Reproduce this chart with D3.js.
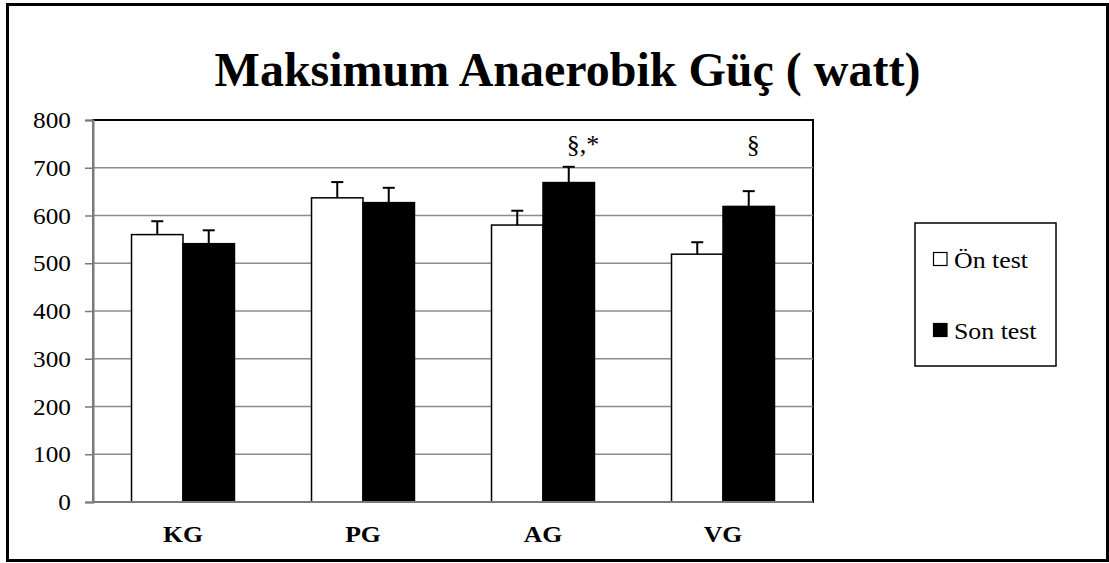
<!DOCTYPE html>
<html>
<head>
<meta charset="utf-8">
<script src="https://cdn.jsdelivr.net/npm/d3@7"></script>
<style>
  html, body { margin: 0; padding: 0; background: #fff; }
  svg { display: block; }
  text { font-family: "Liberation Serif", "Times New Roman", serif; fill: #000; }
</style>
</head>
<body>
<svg id="chart" width="1109" height="563"></svg>
<script>
// Groups and series
const categories = ["KG", "PG", "AG", "VG"];
const seriesNames = ["Ön test", "Son test"];
// Mean maximum anaerobic power (watt)
const onTest = [560, 637, 580, 519];
const sonTest = [541, 627, 669, 619];
// Standard error (upper whisker only)
const onTestErr = [28, 33, 30, 25];
const sonTestErr = [28, 31, 33, 32];
// Significance marks above the post-test bars
const sonTestMarks = ["", "", "§,*", "§"];
const yTicks = [0, 100, 200, 300, 400, 500, 600, 700, 800];
const title = "Maksimum Anaerobik Güç ( watt)";

const serif = "'Liberation Serif', 'Times New Roman', serif";
const svg = d3.select("#chart");
const plot = { left: 93, right: 813, top: 120, bottom: 502 };

// Outer frame
svg.append("rect")
  .attr("x", 7.5).attr("y", 4.5)
  .attr("width", 1100).attr("height", 556)
  .attr("fill", "#fff").attr("stroke", "#000").attr("stroke-width", 3);

// Title
svg.append("text")
  .attr("x", 567.5).attr("y", 86)
  .attr("text-anchor", "middle")
  .style("font-family", serif)
  .attr("font-size", 48).attr("font-weight", "bold")
  .text(title);

const y = d3.scaleLinear().domain([0, 800]).range([plot.bottom, plot.top]);
const x0 = d3.scaleBand().domain(categories).range([plot.left, plot.right]).padding(0);
const groupW = x0.bandwidth() * 0.572;
const x1 = d3.scaleBand().domain(seriesNames)
  .range([(x0.bandwidth() - groupW) / 2, (x0.bandwidth() + groupW) / 2]);

// Plot area frame
svg.append("rect")
  .attr("x", plot.left).attr("y", plot.top)
  .attr("width", plot.right - plot.left).attr("height", plot.bottom - plot.top)
  .attr("fill", "none").attr("stroke", "#000").attr("stroke-width", 2);

// Gridlines
svg.append("g").selectAll("line")
  .data(yTicks.filter(t => t > 0 && t < 800))
  .join("line")
  .attr("x1", plot.left).attr("x2", plot.right)
  .attr("y1", d => y(d)).attr("y2", d => y(d))
  .attr("stroke", "#8c8c8c").attr("stroke-width", 1.5);

// Y axis
const yAxis = d3.axisLeft(y).tickValues(yTicks).tickSize(8).tickPadding(14);
const gy = svg.append("g").attr("transform", `translate(${plot.left},0)`).call(yAxis);
gy.select(".domain").attr("stroke", "#7a7a7a").attr("stroke-width", 2);
gy.selectAll(".tick line").attr("stroke", "#7a7a7a").attr("stroke-width", 1.5);
gy.selectAll(".tick text")
  .style("font-family", serif)
  .attr("font-size", 23)
  .attr("dy", "0.33em")
  .each(function () {
    const t = d3.select(this);
    const xx = +t.attr("x");
    t.attr("x", null)
     .attr("transform", `translate(${xx},0) scale(1.1,1)`);
  });

// Bars
const rows = categories.map((c, i) => ({
  cat: c,
  vals: [
    { s: seriesNames[0], v: onTest[i], e: onTestErr[i], mark: "" },
    { s: seriesNames[1], v: sonTest[i], e: sonTestErr[i], mark: sonTestMarks[i] }
  ]
}));
const fills = { "Ön test": "#fff", "Son test": "#000" };

const groups = svg.append("g").selectAll("g")
  .data(rows).join("g")
  .attr("transform", d => `translate(${x0(d.cat)},0)`);

groups.selectAll("rect")
  .data(d => d.vals).join("rect")
  .attr("x", d => x1(d.s)).attr("width", x1.bandwidth())
  .attr("y", d => y(d.v)).attr("height", d => y(0) - y(d.v))
  .attr("fill", d => fills[d.s])
  .attr("stroke", "#000").attr("stroke-width", 1.5);

// Error bars
const capW = 12;
groups.selectAll("g.err")
  .data(d => d.vals).join("g").attr("class", "err")
  .each(function (d) {
    const g = d3.select(this);
    const cx = x1(d.s) + x1.bandwidth() / 2;
    g.append("line")
      .attr("x1", cx).attr("x2", cx)
      .attr("y1", y(d.v)).attr("y2", y(d.v + d.e))
      .attr("stroke", "#000").attr("stroke-width", 2);
    g.append("line")
      .attr("x1", cx - capW / 2).attr("x2", cx + capW / 2)
      .attr("y1", y(d.v + d.e)).attr("y2", y(d.v + d.e))
      .attr("stroke", "#000").attr("stroke-width", 2);
    if (d.mark) {
      g.append("text")
        .attr("x", cx - 2).attr("y", 153)
        .style("font-family", serif)
        .attr("font-size", 26)
        .text(d.mark);
    }
  });

// Axis lines drawn over the plot frame
svg.append("line")
  .attr("x1", plot.left).attr("x2", plot.right)
  .attr("y1", y(0)).attr("y2", y(0))
  .attr("stroke", "#7a7a7a").attr("stroke-width", 2);
svg.append("line")
  .attr("x1", plot.left).attr("x2", plot.left)
  .attr("y1", plot.top).attr("y2", plot.bottom)
  .attr("stroke", "#7a7a7a").attr("stroke-width", 2);

// Category labels
svg.append("g").selectAll("text")
  .data(categories).join("text")
  .attr("text-anchor", "middle")
  .style("font-family", serif)
  .attr("font-size", 24).attr("font-weight", "bold")
  .attr("transform", d => `translate(${x0(d) + x0.bandwidth() / 2},541.5) scale(1.07,1)`)
  .text(d => d);

// Legend
const lg = svg.append("g");
lg.append("rect")
  .attr("x", 915).attr("y", 223).attr("width", 141).attr("height", 143)
  .attr("fill", "#fff").attr("stroke", "#000").attr("stroke-width", 1.5);
const legendY = [259, 330];
seriesNames.forEach((s, i) => {
  lg.append("rect")
    .attr("x", 933.5).attr("y", legendY[i] - 6.5)
    .attr("width", 13.5).attr("height", 13)
    .attr("fill", fills[s]).attr("stroke", "#000").attr("stroke-width", 1.2);
  lg.append("text")
    .attr("transform", `translate(954,${legendY[i] + 8.5}) scale(1.1,1)`)
    .style("font-family", serif)
    .attr("font-size", 23.5)
    .text(s);
});
</script>
</body>
</html>
